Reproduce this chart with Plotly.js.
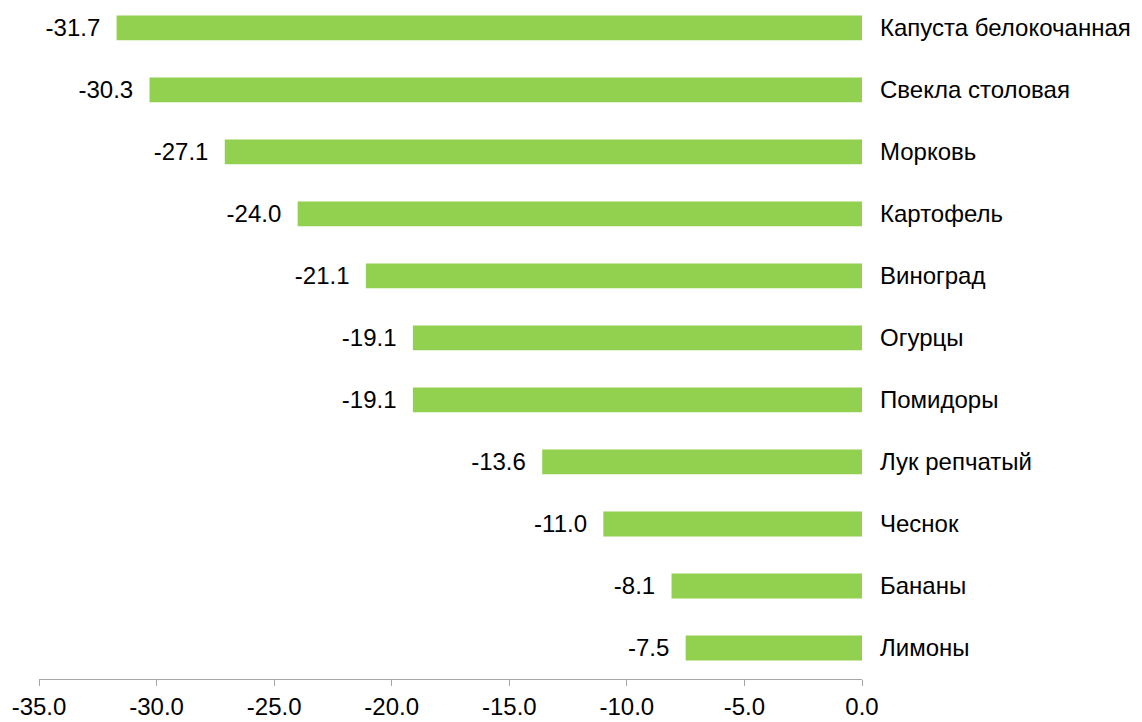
<!DOCTYPE html>
<html>
<head>
<meta charset="utf-8">
<script src="https://cdn.plot.ly/plotly-3.0.1.min.js"></script>
<style>html,body{margin:0;padding:0;background:#fff;}#chart{width:1142px;height:722px;}</style>
</head>
<body>
<div id="chart"></div>
<script>
const categories = ["Капуста белокочанная","Свекла столовая","Морковь","Картофель","Виноград","Огурцы","Помидоры","Лук репчатый","Чеснок","Бананы","Лимоны"];
const values = [-31.7,-30.3,-27.1,-24.0,-21.1,-19.1,-19.1,-13.6,-11.0,-8.1,-7.5];
const xTicks = [-35,-30,-25,-20,-15,-10,-5,0];
const xTickLabels = ["-35.0","-30.0","-25.0","-20.0","-15.0","-10.0","-5.0","0.0"];

const trace = {
  type: 'bar',
  orientation: 'h',
  x: values,
  y: categories,
  marker: {color: '#92D050'},
  text: values.map(v => v.toFixed(1) + '\u00a0\u00a0'),
  textposition: 'outside',
  constraintext: 'none',
  cliponaxis: false,
  textfont: {family: 'Liberation Sans, Arial, sans-serif', size: 24, color: '#000'},
  hoverinfo: 'skip'
};

const layout = {
  width: 1142, height: 722,
  margin: {l: 39, r: 280, t: 0, b: 43},
  paper_bgcolor: '#fff', plot_bgcolor: '#fff',
  showlegend: false,
  bargap: 0.6,
  font: {family: 'Liberation Sans, Arial, sans-serif', size: 24, color: '#000'},
  xaxis: {
    range: [-35, 0],
    tickvals: xTicks,
    ticktext: xTickLabels,
    showgrid: false,
    zeroline: false,
    showline: true,
    linecolor: '#A6A6A6',
    linewidth: 1,
    ticks: 'outside',
    ticklen: 6,
    tickcolor: '#A6A6A6',
    ticklabelstandoff: 0,
    tickfont: {size: 24, color: '#000'}
  },
  yaxis: {
    type: 'category',
    categoryorder: 'array',
    categoryarray: categories,
    range: [10.5, -0.45],
    side: 'right',
    showgrid: false,
    zeroline: false,
    showline: false,
    ticks: '',
    ticklabelstandoff: 17,
    tickfont: {size: 24, color: '#000'}
  }
};

Plotly.newPlot('chart', [trace], layout, {displayModeBar: false, staticPlot: true});
</script>
</body>
</html>
